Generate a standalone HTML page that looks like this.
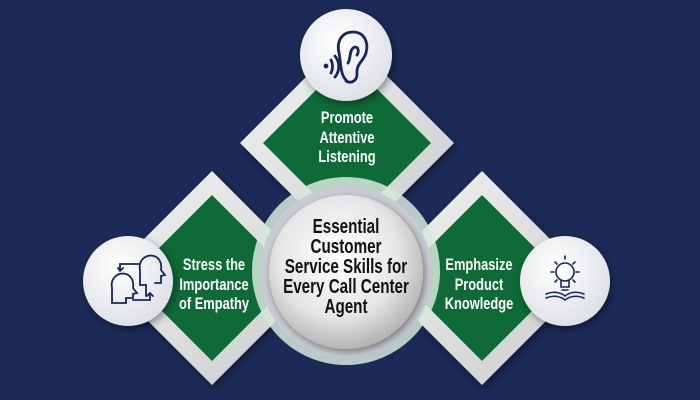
<!DOCTYPE html>
<html><head><meta charset="utf-8"><style>
html,body{margin:0;padding:0;background:#1b2a57;}
svg{display:block;}
text{font-family:"Liberation Sans Narrow","Liberation Sans",sans-serif;font-weight:bold;}
</style></head><body>
<svg width="700" height="400" viewBox="0 0 700 400">
<defs>
<linearGradient id="fr" x1="0" y1="0" x2="1" y2="1">
<stop offset="0" stop-color="#f4f4f4"/><stop offset="1" stop-color="#c9cacc"/></linearGradient>
<radialGradient id="sph" cx="0.45" cy="0.4" r="0.65">
<stop offset="0" stop-color="#ffffff"/><stop offset="0.6" stop-color="#e6e6e6"/><stop offset="1" stop-color="#a9a9a9"/></radialGradient>
<radialGradient id="ic" cx="0.4" cy="0.35" r="0.7">
<stop offset="0" stop-color="#ffffff"/><stop offset="1" stop-color="#dcdfe4"/></radialGradient>
<filter id="sh" x="-30%" y="-30%" width="160%" height="160%"><feDropShadow dx="2" dy="3" stdDeviation="4" flood-color="#000" flood-opacity="0.4"/></filter>
</defs>
<rect width="700" height="400" fill="#1b2a57"/>
<g filter="url(#sh)">
<polygon points="347,36 454,143 347,250 240,143" fill="url(#fr)"/>
<polygon points="212,171 319,278 212,385 105,278" fill="url(#fr)"/>
<polygon points="482,171 589,278 482,385 375,278" fill="url(#fr)"/>
</g>
<polygon points="347,59 431,143 347,227 263,143" fill="#0e6a36"/>
<polygon points="212,195 295,278 212,361 129,278" fill="#0e6a36"/>
<polygon points="482,195 565,278 482,361 399,278" fill="#0e6a36"/>
<circle cx="346" cy="271" r="94" fill="#d6e6dc" opacity="0.85"/>
<circle cx="346" cy="272" r="86" fill="#c9ccd3"/>
<circle cx="346" cy="272" r="77" fill="url(#sph)" filter="url(#sh)"/>
<g fill="#111" font-size="20" text-anchor="middle" transform="translate(346,0) scale(0.76,1)">
<text x="0" y="233">Essential</text>
<text x="0" y="253">Customer</text>
<text x="0" y="273">Service Skills for</text>
<text x="0" y="293">Every Call Center</text>
<text x="0" y="313">Agent</text>
</g>
<g fill="#fff" font-size="16.5" text-anchor="middle">
<g transform="translate(347,0) scale(0.78,1)">
<text x="0" y="123">Promote</text>
<text x="0" y="143">Attentive</text>
<text x="0" y="162">Listening</text>
</g>
<g transform="translate(214,0) scale(0.78,1)">
<text x="0" y="270">Stress the</text>
<text x="0" y="290">Importance</text>
<text x="0" y="309">of Empathy</text>
</g>
<g transform="translate(479,0) scale(0.78,1)">
<text x="0" y="270">Emphasize</text>
<text x="0" y="290">Product</text>
<text x="0" y="309">Knowledge</text>
</g>
</g>
<g filter="url(#sh)">
<circle cx="346" cy="55" r="46" fill="url(#ic)"/>
<circle cx="128" cy="281" r="45" fill="url(#ic)"/>
<circle cx="565" cy="281" r="45" fill="url(#ic)"/>
</g>
<g fill="none" stroke="#16285a" stroke-width="2.8" stroke-linecap="round">
<path d="M346,80 C340,74 341,62 339,53 C336,40 343,32 353,32 C364,32 369,42 366,53 C363,62 356,64 357,74 C357,81 351,84 346,81"/>
<path d="M348,63 C351,58 349,52 353,48 C357,45 360,50 357,55"/>
<path d="M331,60 C333,64 333,69 331,73"/><path d="M335,56 C340,62 340,71 335,77"/>
<circle cx="326" cy="66" r="1" fill="#16285a"/>
<g stroke-width="1.8">
<path d="M112,303 L112,288 C110,278 118,272 126,274 C132,276 134,282 133,288 L137,293 L133,294 L133,298 L126,298 L126,303 Z"/>
<path d="M146,296 L146,285 L140,285 L140,270 C138,260 146,254 154,256 C160,258 162,264 161,270 L165,275 L161,276 L161,283 L155,283"/>
<path d="M139,264 L120,264 L120,270"/><path d="M118,268 L120,271 L123,268"/>
<path d="M133,300 L150,300 L150,294"/><path d="M147,296 L150,293 L153,296"/>
</g>
<g stroke-width="1.6">
<circle cx="565" cy="272" r="9"/>
<path d="M561,280 L561,287 L569,287 L569,280"/><path d="M562,290 L568,290"/>
<path d="M565,256 L565,259 M551,272 L554,272 M576,272 L579,272 M555,262 L557,264 M575,262 L573,264 M555,282 L557,280 M575,282 L573,280"/>
<path d="M546,294 C553,291 560,292 565,296 C570,292 577,291 584,294 M546,298 C553,295 560,296 565,300 C570,296 577,295 584,298"/>
</g>
</g>
</svg>
</body></html>
